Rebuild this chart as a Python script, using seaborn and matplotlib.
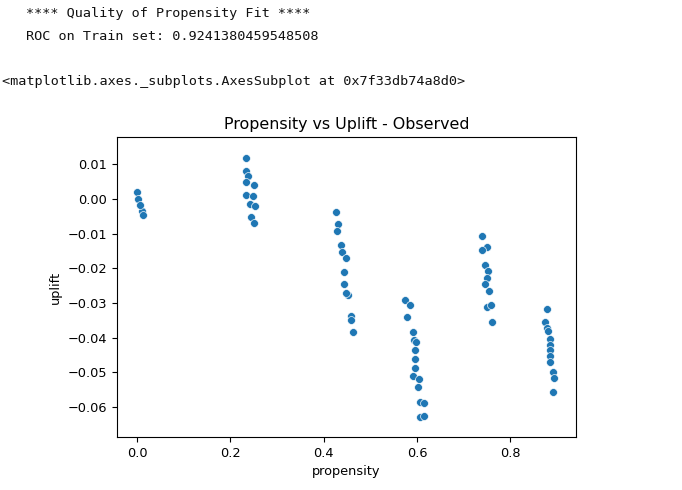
import numpy as np
import pandas as pd
import matplotlib
matplotlib.use("Agg")
import matplotlib.pyplot as plt
import seaborn as sns

# propensity / uplift, grouped by cluster
prop_a = [-0.001, 0.002, 0.011, 0.006, 0.012]
upl_a = [0.0020, 0.0000, -0.0036, -0.0016, -0.0045]

prop_b = [0.233, 0.233, 0.238, 0.233, 0.251, 0.233, 0.249, 0.243, 0.253, 0.245, 0.250]
upl_b = [0.0118, 0.0082, 0.0067, 0.0048, 0.0041, 0.0012, 0.0010, -0.0013, -0.0021, -0.0053, -0.0069]

prop_c = [0.426, 0.431, 0.429, 0.437, 0.440, 0.447, 0.443, 0.443, 0.453, 0.447, 0.459, 0.458, 0.464]
upl_c = [-0.0037, -0.0071, -0.0093, -0.0134, -0.0154, -0.0171, -0.0210, -0.0246, -0.0278, -0.0271,
         -0.0339, -0.0348, -0.0385]

prop_d = [0.574, 0.585, 0.578, 0.591, 0.593, 0.597, 0.596, 0.596, 0.596, 0.592, 0.604, 0.602,
          0.607, 0.615, 0.607, 0.615]
upl_d = [-0.0292, -0.0305, -0.0340, -0.0384, -0.0406, -0.0412, -0.0437, -0.0461, -0.0487, -0.0510,
         -0.0519, -0.0543, -0.0586, -0.0590, -0.0630, -0.0626]

prop_e = [0.740, 0.750, 0.740, 0.746, 0.753, 0.750, 0.746, 0.755, 0.750, 0.758, 0.761]
upl_e = [-0.0108, -0.0138, -0.0146, -0.0190, -0.0207, -0.0228, -0.0245, -0.0266, -0.0313, -0.0305, -0.0356]

prop_f = [0.8785, 0.875, 0.879, 0.882, 0.886, 0.886, 0.886, 0.886, 0.886, 0.891, 0.894, 0.891]
upl_f = [-0.0317, -0.0356, -0.0372, -0.0382, -0.0404, -0.0420, -0.0435, -0.0454, -0.0471, -0.0499,
         -0.0516, -0.0558]

roc_text = "ROC on Train set: 0.9241380459548508"
repr_text = "<matplotlib.axes._subplots.AxesSubplot at 0x7f33db74a8d0>"

df = pd.DataFrame({
    "propensity": prop_a + prop_b + prop_c + prop_d + prop_e + prop_f,
    "uplift": upl_a + upl_b + upl_c + upl_d + upl_e + upl_f,
})

plt.rcParams["font.size"] = 9.3

fig = plt.figure(figsize=(6.82, 4.9), dpi=100)

# notebook output text above the plot
mono = dict(family="DejaVu Sans Mono", fontsize=9.7, color="#111111", va="center")
fig.text(26 / 682, 1 - 13.5 / 490, "**** Quality of Propensity Fit ****", **mono)
fig.text(26 / 682, 1 - 36.5 / 490, roc_text, **mono)
fig.text(2 / 682, 1 - 81.5 / 490, repr_text, **mono)

ax = fig.add_axes([117 / 682, 53 / 490, 459 / 682, 300 / 490])
sns.scatterplot(data=df, x="propensity", y="uplift", ax=ax, s=32)

ax.set_xlim(-0.043, 0.941)
ax.set_ylim(-0.0687, 0.0179)
ax.set_xticks([0.0, 0.2, 0.4, 0.6, 0.8])
ax.set_yticks([0.01, 0.0, -0.01, -0.02, -0.03, -0.04, -0.05, -0.06])
ax.set_title("Propensity vs Uplift - Observed", fontsize=11.4)

fig.savefig("out.png", dpi=100)
